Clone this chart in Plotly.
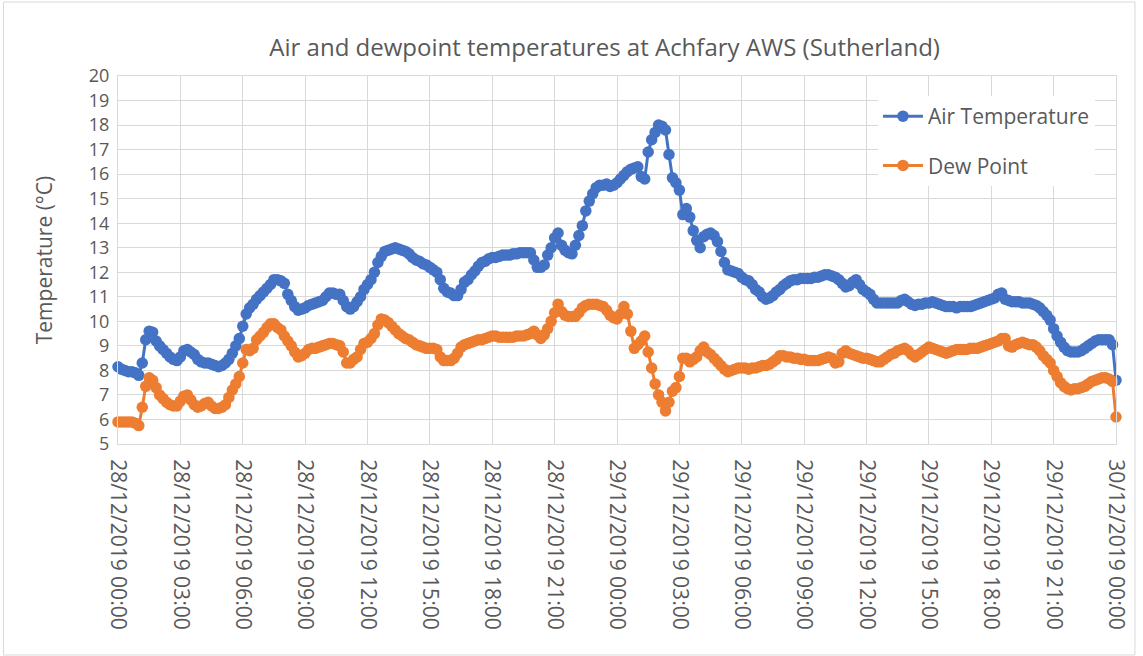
import pandas as pd
import plotly.graph_objects as go

# 10-minute readings, 28/12/2019 00:00 to 30/12/2019 00:00
times = pd.date_range("2019-12-28 00:00", periods=289, freq="10min")

air_temp = [
    # 00:00-03:00
    8.15, 8.05, 8.0, 7.95, 7.95, 7.9, 7.8, 8.3, 9.25, 9.6, 9.55, 9.2, 9.0, 8.85, 8.7, 8.55, 8.45, 8.4,
    # 03:00-06:00
    8.55, 8.8, 8.85, 8.75, 8.65, 8.45, 8.35, 8.3, 8.3, 8.25, 8.2, 8.15, 8.2, 8.3, 8.45, 8.7, 9.0, 9.3,
    # 06:00-09:00
    9.8, 10.3, 10.55, 10.7, 10.9, 11.05, 11.2, 11.35, 11.5, 11.7, 11.7, 11.65, 11.55, 11.1, 10.85, 10.6, 10.45, 10.5,
    # 09:00-12:00
    10.55, 10.65, 10.7, 10.75, 10.8, 10.85, 11.0, 11.15, 11.15, 11.1, 11.1, 10.85, 10.6, 10.5, 10.6, 10.8, 11.0, 11.3,
    # 12:00-15:00
    11.5, 11.7, 12.0, 12.4, 12.65, 12.85, 12.9, 12.95, 13.0, 12.95, 12.9, 12.85, 12.75, 12.6, 12.5, 12.45, 12.35, 12.3,
    # 15:00-18:00
    12.2, 12.1, 12.0, 11.7, 11.35, 11.2, 11.15, 11.05, 11.05, 11.3, 11.6, 11.7, 11.9, 12.05, 12.25, 12.4, 12.45, 12.55,
    # 18:00-21:00
    12.6, 12.6, 12.65, 12.7, 12.7, 12.7, 12.75, 12.75, 12.8, 12.8, 12.8, 12.8, 12.5, 12.2, 12.2, 12.3, 12.7, 13.0,
    # 21:00-00:00
    13.4, 13.6, 13.1, 12.9, 12.8, 12.75, 13.1, 13.5, 13.9, 14.5, 14.9, 15.2, 15.45, 15.55, 15.55, 15.6, 15.5, 15.55,
    # 29/12 00:00-03:00
    15.65, 15.8, 15.95, 16.1, 16.2, 16.25, 16.3, 15.9, 15.8, 16.9, 17.4, 17.7, 18.0, 17.95, 17.8, 16.8, 15.85, 15.65,
    # 03:00-06:00
    15.35, 14.35, 14.6, 14.25, 13.7, 13.3, 13.0, 13.45, 13.55, 13.6, 13.5, 13.25, 12.85, 12.4, 12.1, 12.05, 12.0, 11.95,
    # 06:00-09:00
    11.8, 11.7, 11.65, 11.5, 11.3, 11.2, 11.0, 10.9, 10.95, 11.05, 11.2, 11.3, 11.45, 11.55, 11.65, 11.7, 11.7, 11.75,
    # 09:00-12:00
    11.75, 11.75, 11.75, 11.8, 11.8, 11.85, 11.9, 11.9, 11.85, 11.8, 11.7, 11.55, 11.4, 11.45, 11.6, 11.7, 11.5, 11.3,
    # 12:00-15:00
    11.2, 11.1, 10.9, 10.75, 10.75, 10.75, 10.75, 10.75, 10.75, 10.75, 10.85, 10.9, 10.8, 10.7, 10.65, 10.7, 10.7, 10.75,
    # 15:00-18:00
    10.75, 10.8, 10.75, 10.7, 10.65, 10.6, 10.6, 10.6, 10.55, 10.6, 10.6, 10.6, 10.6, 10.65, 10.7, 10.75, 10.8, 10.85,
    # 18:00-21:00
    10.9, 10.95, 11.1, 11.15, 10.9, 10.85, 10.8, 10.8, 10.8, 10.75, 10.75, 10.75, 10.7, 10.65, 10.55, 10.4, 10.25, 10.05,
    # 21:00-00:00
    9.7, 9.4, 9.15, 8.95, 8.8, 8.75, 8.75, 8.75, 8.8, 8.9, 9.0, 9.1, 9.2, 9.25, 9.25, 9.25, 9.25, 9.05,
    # 30/12 00:00
    7.6,
]

dew_point = [
    # 00:00-03:00
    5.9, 5.9, 5.9, 5.9, 5.9, 5.85, 5.75, 6.5, 7.35, 7.7, 7.6, 7.3, 7.0, 6.85, 6.7, 6.6, 6.55, 6.55,
    # 03:00-06:00
    6.75, 6.95, 7.0, 6.8, 6.6, 6.5, 6.55, 6.65, 6.7, 6.55, 6.45, 6.45, 6.5, 6.6, 6.9, 7.2, 7.45, 7.75,
    # 06:00-09:00
    8.3, 8.85, 8.8, 8.9, 9.25, 9.4, 9.55, 9.75, 9.9, 9.9, 9.75, 9.65, 9.4, 9.2, 9.0, 8.75, 8.55, 8.6,
    # 09:00-12:00
    8.7, 8.85, 8.9, 8.9, 8.95, 9.0, 9.05, 9.1, 9.1, 9.05, 9.0, 8.75, 8.3, 8.3, 8.45, 8.55, 8.85, 9.1,
    # 12:00-15:00
    9.15, 9.3, 9.5, 9.85, 10.1, 10.05, 9.95, 9.8, 9.65, 9.5, 9.4, 9.3, 9.25, 9.15, 9.05, 9.0, 8.95, 8.9,
    # 15:00-18:00
    8.9, 8.9, 8.85, 8.55, 8.4, 8.4, 8.4, 8.5, 8.7, 8.95, 9.05, 9.1, 9.15, 9.2, 9.25, 9.25, 9.3, 9.35,
    # 18:00-21:00
    9.4, 9.4, 9.35, 9.35, 9.35, 9.35, 9.35, 9.4, 9.4, 9.4, 9.45, 9.5, 9.6, 9.45, 9.3, 9.45, 9.7, 10.0,
    # 21:00-00:00
    10.35, 10.7, 10.4, 10.25, 10.2, 10.2, 10.2, 10.35, 10.55, 10.65, 10.7, 10.7, 10.7, 10.65, 10.6, 10.45, 10.25, 10.15,
    # 29/12 00:00-03:00
    10.1, 10.3, 10.6, 10.3, 9.6, 8.9, 9.05, 9.2, 9.4, 8.75, 8.1, 7.45, 7.0, 6.7, 6.35, 6.7, 7.15, 7.3,
    # 03:00-06:00
    7.75, 8.5, 8.5, 8.35, 8.45, 8.55, 8.8, 8.95, 8.75, 8.65, 8.5, 8.35, 8.2, 8.05, 7.95, 8.0, 8.05, 8.1,
    # 06:00-09:00
    8.1, 8.1, 8.05, 8.1, 8.1, 8.15, 8.2, 8.2, 8.25, 8.35, 8.45, 8.6, 8.6, 8.55, 8.55, 8.5, 8.5, 8.45,
    # 09:00-12:00
    8.45, 8.4, 8.4, 8.4, 8.4, 8.45, 8.5, 8.55, 8.5, 8.3, 8.35, 8.7, 8.8, 8.7, 8.65, 8.6, 8.55, 8.5,
    # 12:00-15:00
    8.5, 8.45, 8.4, 8.35, 8.35, 8.45, 8.55, 8.65, 8.7, 8.8, 8.85, 8.9, 8.8, 8.65, 8.55, 8.65, 8.75, 8.85,
    # 15:00-18:00
    8.95, 8.9, 8.85, 8.8, 8.75, 8.7, 8.75, 8.8, 8.85, 8.85, 8.85, 8.85, 8.9, 8.9, 8.9, 8.95, 9.0, 9.05,
    # 18:00-21:00
    9.1, 9.15, 9.2, 9.3, 9.3, 9.0, 8.95, 9.05, 9.1, 9.15, 9.1, 9.05, 9.05, 8.95, 8.8, 8.6, 8.45, 8.3,
    # 21:00-00:00
    8.0, 7.75, 7.5, 7.35, 7.25, 7.2, 7.25, 7.25, 7.3, 7.35, 7.45, 7.55, 7.6, 7.65, 7.7, 7.7, 7.65, 7.55,
    # 30/12 00:00
    6.1,
]

series_names = ["Air Temperature", "Dew Point"]
colors = ["#4472C4", "#ED7D31"]
title_text = "Air and dewpoint temperatures at Achfary AWS (Sutherland)"
y_title = "Temperature (°C)"

FONT = "Open Sans"
GREY = "#595959"
GRID = "#d9d9d9"

fig = go.Figure()
for i, (name, vals) in enumerate(zip(series_names, [air_temp, dew_point])):
    fig.add_trace(go.Scatter(
        x=times, y=vals, name=name, mode="lines+markers",
        line=dict(color=colors[i], width=3),
        marker=dict(color=colors[i], size=11.5),
        cliponaxis=False, legendgroup=name,
    ))

fig.update_layout(
    width=1143, height=656,
    margin=dict(l=118, r=23, t=76, b=212),
    paper_bgcolor="white", plot_bgcolor="white",
    font=dict(family=FONT, color=GREY),
    title=dict(text=title_text, x=0.529, xanchor="center", y=0.928, yanchor="middle",
               font=dict(size=24, color=GREY, family=FONT)),
    showlegend=True,
    legend=dict(x=0.7615, y=0.9457, xanchor="left", yanchor="top",
                bgcolor="white", borderwidth=0,
                font=dict(size=21, color=GREY, family=FONT),
                tracegroupgap=19, traceorder="grouped",
                itemwidth=40),
    shapes=[
        dict(type="rect", xref="paper", yref="paper",
             x0=-0.1148, x1=1.019, y0=-0.5734, y1=1.201,
             line=dict(color=GRID, width=1), fillcolor="rgba(0,0,0,0)", layer="below"),
        dict(type="rect", xref="paper", yref="paper",
             x0=0.7385, x1=0.988, y0=0.690, y1=0.9565,
             line=dict(width=0), fillcolor="white", layer="between"),
    ],
)

fig.update_xaxes(
    type="date",
    range=[pd.Timestamp("2019-12-28 00:00"), pd.Timestamp("2019-12-30 00:00")],
    tick0=pd.Timestamp("2019-12-28 00:00"), dtick=3 * 3600 * 1000,
    tickformat="%d/%m/%Y %H:%M", tickangle=90,
    tickfont=dict(size=21, color=GREY, family=FONT),
    showgrid=True, gridcolor=GRID, gridwidth=1,
    showline=True, linecolor=GRID, linewidth=1, mirror=True,
    ticks="", ticklabelstandoff=10, zeroline=False,
)
fig.update_yaxes(
    range=[5, 20], dtick=1, tick0=5,
    tickfont=dict(size=18, color=GREY, family=FONT),
    showgrid=True, gridcolor=GRID, gridwidth=1,
    showline=True, linecolor=GRID, linewidth=1, mirror=True,
    ticks="", zeroline=False, ticklabelstandoff=4,
    title=dict(text=y_title, font=dict(size=21, color=GREY, family=FONT), standoff=30),
)

fig.write_html("out.html", config={"displayModeBar": False},
               post_script="document.body.style.margin='0px';")
